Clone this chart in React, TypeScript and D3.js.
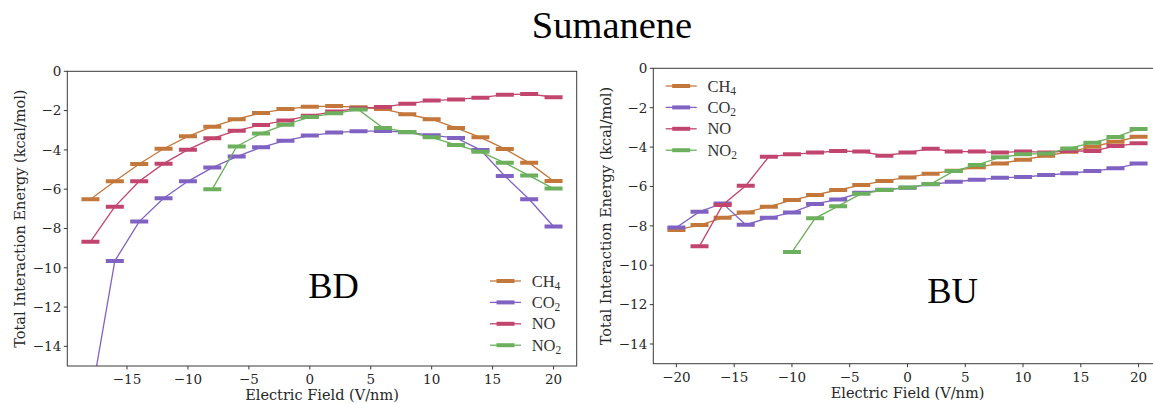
import React from "react";
import * as d3 from "d3";

// Electric field values (V/nm)
const fieldBD = [-18, -16, -14, -12, -10, -8, -6, -4, -2, 0, 2, 4, 6, 8, 10, 12, 14, 16, 18, 20];
const fieldBU = [-20, -18, -16, -14, -12, -10, -8, -6, -4, -2, 0, 2, 4, 6, 8, 10, 12, 14, 16, 18, 20];

// Total interaction energy (kcal/mol), BD orientation
const bdCH4 = [-6.51, -5.6, -4.72, -3.94, -3.31, -2.82, -2.44, -2.12, -1.92, -1.8, -1.77, -1.83, -1.92, -2.19, -2.44, -2.88, -3.36, -3.95, -4.66, -5.58];
const bdCO2 = [-16.8, -9.65, -7.65, -6.46, -5.6, -4.9, -4.34, -3.87, -3.53, -3.27, -3.12, -3.05, -3.04, -3.1, -3.26, -3.39, -4.0, -5.33, -6.51, -7.9];
const bdNO = [-8.67, -6.89, -5.6, -4.7, -3.99, -3.41, -3.02, -2.73, -2.51, -2.26, -2.05, -1.88, -1.82, -1.65, -1.49, -1.43, -1.34, -1.19, -1.15, -1.32];
const bdNO2 = [null, null, null, null, null, -6.0, -3.83, -3.16, -2.72, -2.33, -2.14, -1.95, -2.88, -3.09, -3.36, -3.75, -4.1, -4.66, -5.31, -5.97];

// Total interaction energy (kcal/mol), BU orientation
const buCH4 = [-8.21, -7.96, -7.59, -7.32, -7.03, -6.69, -6.43, -6.18, -5.93, -5.72, -5.54, -5.35, -5.2, -5.03, -4.83, -4.64, -4.44, -4.24, -3.98, -3.73, -3.47];
const buCO2 = [-8.08, -7.28, -6.86, -7.94, -7.59, -7.32, -6.89, -6.66, -6.32, -6.17, -6.06, -5.89, -5.76, -5.66, -5.56, -5.52, -5.42, -5.33, -5.22, -5.08, -4.83];
const buNO = [null, -9.03, -6.94, -5.96, -4.49, -4.37, -4.28, -4.2, -4.23, -4.44, -4.27, -4.08, -4.23, -4.23, -4.28, -4.22, -4.27, -4.2, -4.2, -3.95, -3.81];
const buNO2 = [null, null, null, null, null, -9.33, -7.62, -7.0, -6.37, -6.18, -6.05, -5.88, -5.22, -4.91, -4.52, -4.37, -4.32, -4.07, -3.78, -3.49, -3.08];

const seriesNames = ["CH4", "CO2", "NO", "NO2"];
const seriesColors = ["#c4773b", "#8062c2", "#c2456e", "#6caf5c"];

const yTicks = [0, -2, -4, -6, -8, -10, -12, -14];
const xTicksBD = [-15, -10, -5, 0, 5, 10, 15, 20];
const xTicksBU = [-20, -15, -10, -5, 0, 5, 10, 15, 20];

const W = 1153;
const H = 404;
const TICK_FONT = "DejaVu Serif";
const TEXT_FONT = "Liberation Serif";

type Panel = {
  id: string;
  left: number;
  right: number;
  top: number;
  bottom: number;
  xDomain: [number, number];
  field: number[];
  values: (number | null)[][];
  xTicks: number[];
  tag: string;
  tagX: number;
  tagY: number;
  legendX: number;
  legendY: number;
  yLabelX: number;
};

const panels: Panel[] = [
  {
    id: "bd",
    left: 67.3,
    right: 576.7,
    top: 71.3,
    bottom: 366,
    xDomain: [-19.9, 21.9],
    field: fieldBD,
    values: [bdCH4, bdCO2, bdNO, bdNO2],
    xTicks: xTicksBD,
    tag: "BD",
    tagX: 333.5,
    tagY: 297.5,
    legendX: 490,
    legendY: 281,
    yLabelX: 24.5,
  },
  {
    id: "bu",
    left: 653.3,
    right: 1161.7,
    top: 68.3,
    bottom: 363.7,
    xDomain: [-22, 22],
    field: fieldBU,
    values: [buCH4, buCO2, buNO, buNO2],
    xTicks: xTicksBU,
    tag: "BU",
    tagX: 952.5,
    tagY: 303.3,
    legendX: 665.7,
    legendY: 86,
    yLabelX: 610.5,
  },
];

function SeriesLabel({ name }: { name: string }) {
  const m = name.match(/^([A-Z]+?)(\d)?$/);
  const base = m ? m[1] : name;
  const sub = m && m[2];
  return (
    <>
      {base}
      {sub ? (
        <tspan fontSize="11.5" dy="3.5">
          {sub}
        </tspan>
      ) : null}
    </>
  );
}

function PanelView({ p }: { p: Panel }) {
  const x = d3.scaleLinear().domain(p.xDomain).range([p.left, p.right]);
  const y = d3.scaleLinear().domain([-15, 0]).range([p.bottom, p.top]);
  const clipId = `clip-${p.id}`;
  const markerHalf = 9;

  return (
    <g>
      <defs>
        <clipPath id={clipId}>
          <rect x={p.left} y={p.top} width={p.right - p.left} height={p.bottom - p.top} />
        </clipPath>
      </defs>

      <g clipPath={`url(#${clipId})`}>
        {p.values.map((vals, si) => {
          const pts = p.field
            .map((f, i) => ({ f, v: vals[i] }))
            .filter((d) => d.v !== null) as { f: number; v: number }[];
          const line = d3
            .line<{ f: number; v: number }>()
            .x((d) => x(d.f))
            .y((d) => y(d.v));
          const color = seriesColors[si];
          return (
            <g key={si}>
              <path d={line(pts) || ""} fill="none" stroke={color} strokeWidth={1.3} />
              {pts.map((d, i) => (
                <line
                  key={i}
                  x1={x(d.f) - markerHalf}
                  x2={x(d.f) + markerHalf}
                  y1={y(d.v)}
                  y2={y(d.v)}
                  stroke={color}
                  strokeWidth={4}
                />
              ))}
            </g>
          );
        })}
      </g>

      {/* frame */}
      <rect
        x={p.left}
        y={p.top}
        width={p.right - p.left}
        height={p.bottom - p.top}
        fill="none"
        stroke="#3a3a3a"
        strokeWidth={1}
      />

      {/* y axis ticks */}
      {yTicks.map((t) => (
        <g key={`y${t}`}>
          <line x1={p.left - 3.5} x2={p.left} y1={y(t)} y2={y(t)} stroke="#3a3a3a" strokeWidth={1} />
          <text
            x={p.left - 6}
            y={y(t)}
            dy="0.36em"
            textAnchor="end"
            fontFamily={TICK_FONT}
            fontSize={13.5}
            fill="#262626"
          >
            {t < 0 ? `\u2212${Math.abs(t)}` : `${t}`}
          </text>
        </g>
      ))}

      {/* x axis ticks */}
      {p.xTicks.map((t) => (
        <g key={`x${t}`}>
          <line x1={x(t)} x2={x(t)} y1={p.bottom} y2={p.bottom + 3.5} stroke="#3a3a3a" strokeWidth={1} />
          <text
            x={x(t)}
            y={p.bottom + 18}
            textAnchor="middle"
            fontFamily={TICK_FONT}
            fontSize={13.5}
            fill="#262626"
          >
            {t < 0 ? `\u2212${Math.abs(t)}` : `${t}`}
          </text>
        </g>
      ))}

      {/* axis titles */}
      <text
        x={(p.left + p.right) / 2}
        y={p.bottom + 34}
        textAnchor="middle"
        fontFamily={TICK_FONT}
        fontSize={14.5}
        fill="#262626"
      >
        Electric Field (V/nm)
      </text>
      <text
        transform={`translate(${p.yLabelX},${(p.top + p.bottom) / 2}) rotate(-90)`}
        textAnchor="middle"
        fontFamily={TICK_FONT}
        fontSize={14.5}
        fill="#262626"
      >
        Total Interaction Energy (kcal/mol)
      </text>

      {/* orientation tag */}
      <text x={p.tagX} y={p.tagY} textAnchor="middle" fontFamily={TEXT_FONT} fontSize={36.5} fill="#000">
        {p.tag}
      </text>

      {/* legend */}
      {seriesNames.map((name, si) => {
        const ly = p.legendY + si * 21.4;
        const lx = p.legendX;
        return (
          <g key={name}>
            <line x1={lx} x2={lx + 31} y1={ly} y2={ly} stroke={seriesColors[si]} strokeWidth={1.3} />
            <line
              x1={lx + 15.5 - markerHalf}
              x2={lx + 15.5 + markerHalf}
              y1={ly}
              y2={ly}
              stroke={seriesColors[si]}
              strokeWidth={4}
            />
            <text x={lx + 41.7} y={ly + 5.5} fontFamily={TEXT_FONT} fontSize={16.5} fill="#333">
              <SeriesLabel name={name} />
            </text>
          </g>
        );
      })}
    </g>
  );
}

export default function App() {
  return (
    <svg
      width={W}
      height={H}
      viewBox={`0 0 ${W} ${H}`}
      style={{ position: "absolute", left: 0, top: 0, background: "#fff" }}
    >
      <rect x={0} y={0} width={W} height={H} fill="#fff" />
      <text x={612} y={38.3} textAnchor="middle" fontFamily={TEXT_FONT} fontSize={38.5} fill="#000">
        Sumanene
      </text>
      {panels.map((p) => (
        <PanelView key={p.id} p={p} />
      ))}
    </svg>
  );
}
